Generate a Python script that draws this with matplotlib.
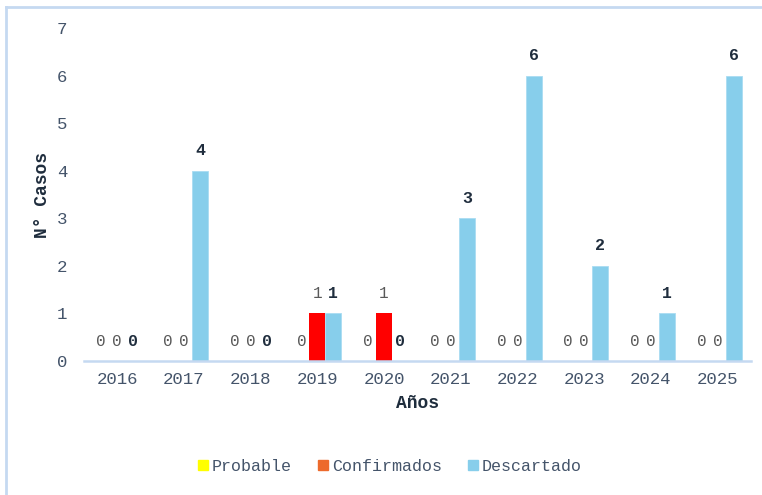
import numpy as np
import matplotlib.pyplot as plt
from matplotlib.patches import Patch
from matplotlib.lines import Line2D

# data
years = ['2016', '2017', '2018', '2019', '2020', '2021', '2022', '2023', '2024', '2025']
probable = [0, 0, 0, 0, 0, 0, 0, 0, 0, 0]
confirmados = [0, 0, 0, 1, 1, 0, 0, 0, 0, 0]
descartado = [0, 4, 0, 1, 0, 3, 6, 2, 1, 6]

mono = 'Liberation Mono'
txt_col = '#44546a'
dark = '#1f2d3d'

fig = plt.figure(figsize=(7.62, 4.95), dpi=100)
ax = fig.add_axes([0.110, 0.2707, 0.8756, 0.6727])

x = np.arange(len(years))
w = 0.24
b1 = ax.bar(x - w, probable, w, color='#FFFF00')
b2 = ax.bar(x, confirmados, w, color='#FF0000')
b3 = ax.bar(x + w, descartado, w, color='#87CEEB', edgecolor='#a9dcf2', linewidth=0.6)

for bars in (b1, b2):
    for r in bars:
        ax.annotate('%d' % r.get_height(), (r.get_x() + r.get_width() / 2, r.get_height()),
                    xytext=(0, 9), textcoords='offset points', ha='center', va='bottom',
                    fontsize=11.5, color='#595959', family=mono)
for r in b3:
    ax.annotate('%d' % r.get_height(), (r.get_x() + r.get_width() / 2, r.get_height()),
                xytext=(0, 9), textcoords='offset points', ha='center', va='bottom',
                fontsize=12, color=dark, family=mono, fontweight='bold')

ax.set_xlim(-0.5, len(years) - 0.5)
ax.set_ylim(0, 7)
ax.set_xticks(x)
ax.set_xticklabels(years, family=mono, fontsize=12.5, color=txt_col)
ax.set_yticks(range(8))
ax.set_yticklabels([str(i) for i in range(8)], family=mono, fontsize=12.5, color=txt_col)
ax.tick_params(length=0)
ax.tick_params(axis='x', pad=8)
ax.tick_params(axis='y', pad=12)
for s in ('top', 'right', 'left'):
    ax.spines[s].set_visible(False)
ax.spines['bottom'].set_color('#c5d9f1')
ax.spines['bottom'].set_linewidth(1.8)

ax.set_xlabel('Años', family=mono, fontsize=13, fontweight='bold', color=dark, labelpad=6)
ax.set_ylabel('N° Casos', family=mono, fontsize=13, fontweight='bold', color=dark, labelpad=4)

handles = [Patch(color='#FFFF00'), Patch(color='#ED6A2C'), Patch(color='#87CEEB')]
fig.legend(handles, ['Probable', 'Confirmados', 'Descartado'], loc='center',
           bbox_to_anchor=(0.512, 0.058), ncol=3, frameon=False,
           prop={'family': mono, 'size': 12}, labelcolor=txt_col,
           handlelength=0.6, handleheight=0.6, handletextpad=0.2, columnspacing=1.6)

# outer light-blue frame (left and top edges visible)
fig.add_artist(Line2D([0.0085, 0.0085], [0, 0.986], color='#c5d9f1', lw=2))
fig.add_artist(Line2D([0.0085, 1.0], [0.986, 0.986], color='#c5d9f1', lw=2))

fig.savefig('out.png', dpi=100)
